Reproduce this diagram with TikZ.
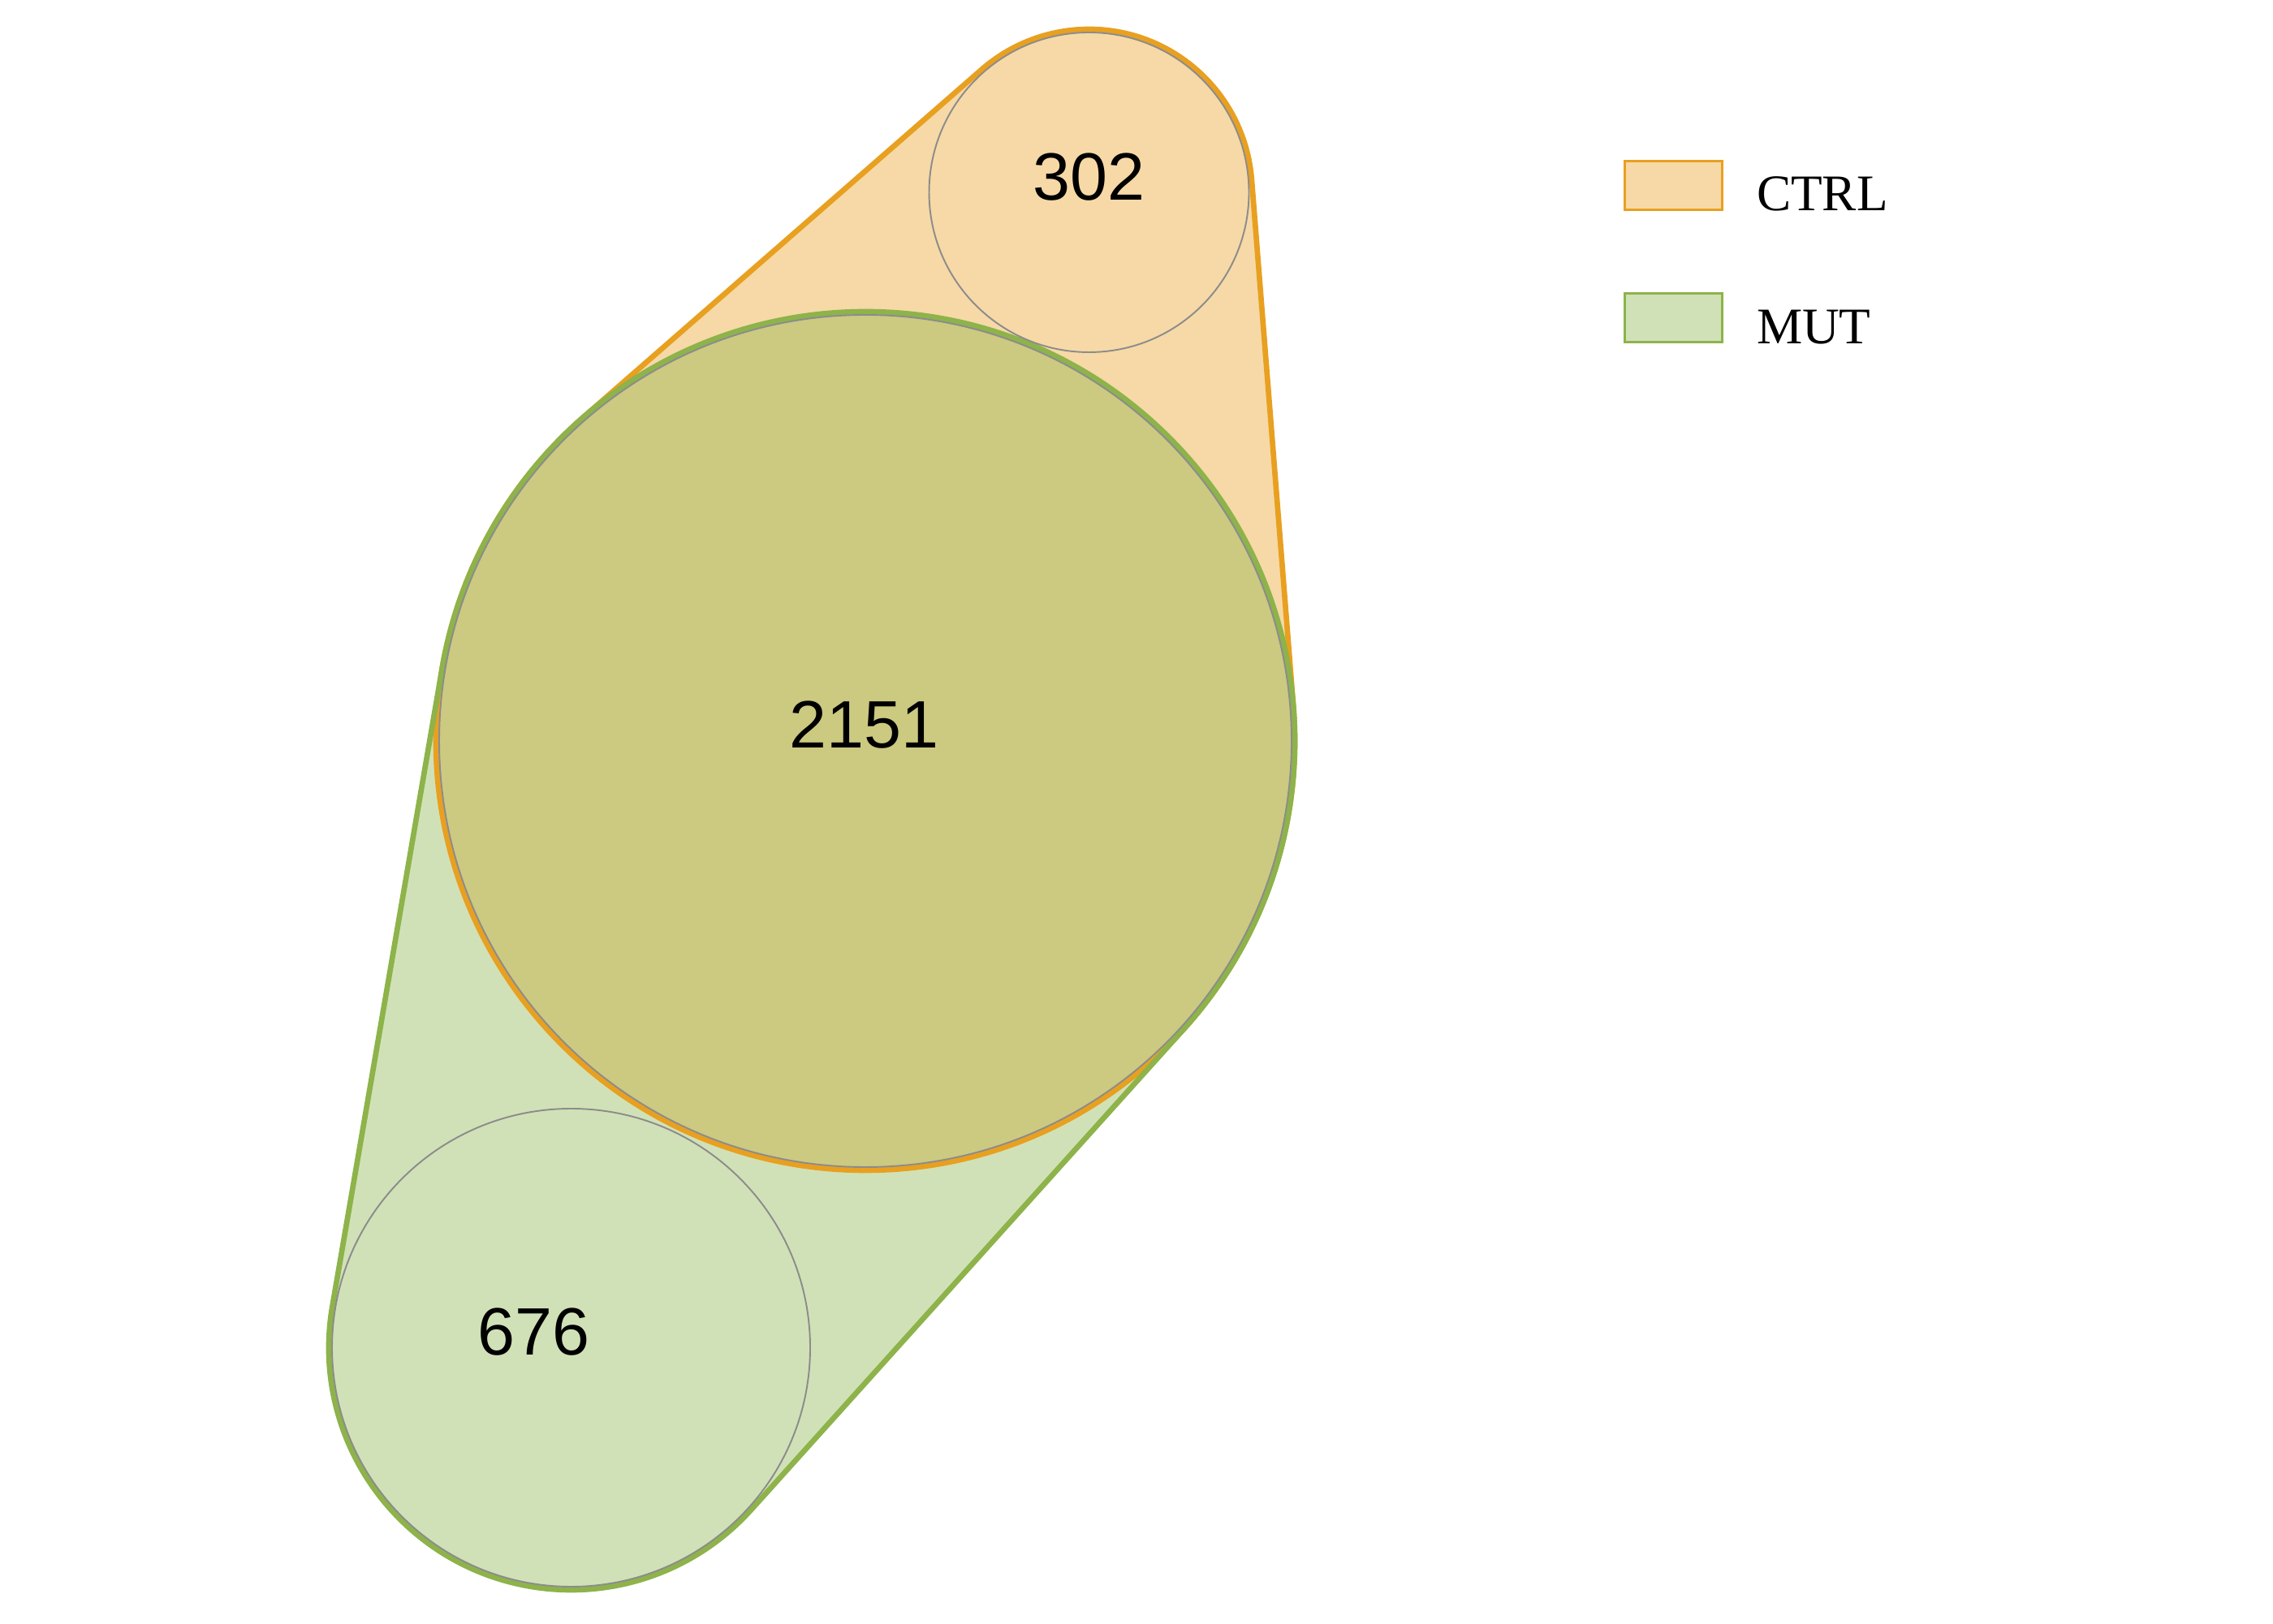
\documentclass[tikz,border=0pt]{standalone}
\usepackage{fontspec}
\setmainfont{Liberation Serif}
\newfontfamily\numfont{Liberation Sans}
\usetikzlibrary{calc,positioning}
\definecolor{ctrlcol}{HTML}{E8A020}
\definecolor{mutcol}{HTML}{8DB34A}
\definecolor{ringcol}{HTML}{8C8C8C}
\tikzset{
    hullfill/.style={fill=#1, fill opacity=0.4, draw=none},
    hullline/.style={draw=#1, line width=1.9pt, line join=round},
    ring/.style={draw=ringcol, line width=0.55pt},
    count/.style={font=\numfont\fontsize{23.5}{28}\selectfont, inner sep=0pt, anchor=base},
    legendbox/.style={draw=#1, line width=0.95pt, fill=#1!40, minimum width=1.2cm, minimum height=0.6cm, inner sep=0pt},
    legendtext/.style={font=\fontsize{18}{22}\selectfont, inner sep=0pt, anchor=base west}
}
% outlines of the two sets, each one the hull of its two circles
\newcommand{\hullCTRL}{($(ctrlonly)+(4.53:2.01)$) arc[start angle=4.53, end angle=131.13, radius=2.01]
    -- ($(shared)+(131.13:5.29)$) arc[start angle=131.13, end angle=364.53, radius=5.29] -- cycle}
\newcommand{\hullMUT}{($(mutonly)+(170.24:2.985)$) arc[start angle=170.24, end angle=318.02, radius=2.985]
    -- ($(shared)+(318.02:5.29)$) arc[start angle=318.02, end angle=530.24, radius=5.29] -- cycle}

\begin{document}
\begin{tikzpicture}
    \useasboundingbox (0,0) rectangle (28,20);
    \coordinate (ctrlonly) at (13.415,17.63);
    \coordinate (shared) at (10.66,10.87);
    \coordinate (mutonly) at (7.035,3.395);

    \fill[hullfill=ctrlcol] \hullCTRL;
    \fill[hullfill=mutcol] \hullMUT;
    \draw[hullline=ctrlcol] \hullCTRL;
    \draw[hullline=mutcol] \hullMUT;

    \draw[ring] (ctrlonly) circle[radius=1.97];
    \draw[ring] (shared) circle[radius=5.25];
    \draw[ring] (mutonly) circle[radius=2.945];

    \node[count] (n302) at (13.415,17.53) {302};
    \node[count] (n2151) at (10.645,10.78) {2151};
    \node[count] (n676) at (6.575,3.30) {676};

    % legend
    \node[legendbox=ctrlcol, anchor=south west] (keyctrl) at (20.0,17.4) {};
    \node[legendbox=mutcol, below=1cm of keyctrl] (keymut) {};
    \node[legendtext] (labctrl) at ([xshift=0.4cm]keyctrl.south east) {CTRL};
    \node[legendtext] (labmut) at ([xshift=0.4cm]keymut.south east) {MUT};
\end{tikzpicture}
\end{document}
